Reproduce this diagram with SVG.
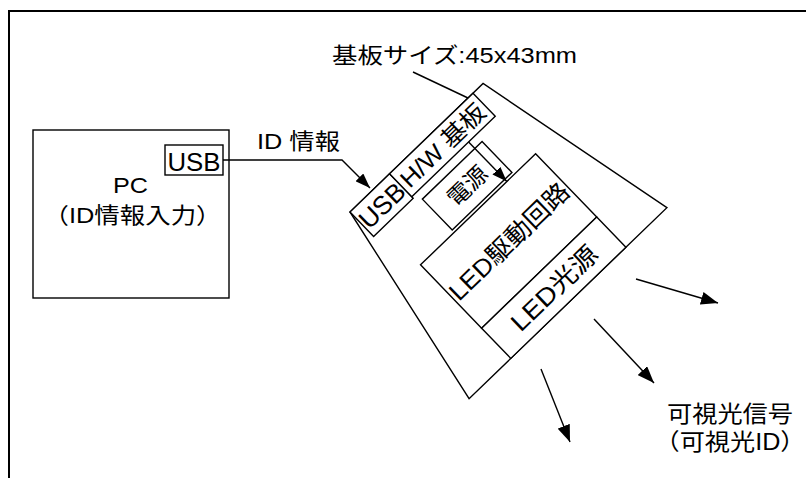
<svg xmlns="http://www.w3.org/2000/svg" width="806" height="478" viewBox="0 0 806 478">
<style>
.ln{fill:none;stroke:#000;stroke-width:1.4}
.bx{fill:#fff;stroke:#000;stroke-width:1.4}
.frame{fill:none;stroke:#000;stroke-width:2}
text{font-family:"Liberation Sans","Noto Sans CJK JP",sans-serif;fill:#000}
</style>
<defs>
<marker id="ah" viewBox="0 0 17 13" refX="17" refY="6.5" markerWidth="17" markerHeight="13" markerUnits="userSpaceOnUse" orient="auto">
<path d="M0,0 L17,6.5 L0,13 Z" fill="#000"/>
</marker>
<marker id="ahs" viewBox="0 0 15 11" refX="15" refY="5.5" markerWidth="15" markerHeight="11" markerUnits="userSpaceOnUse" orient="auto">
<path d="M0,0 L15,5.5 L0,11 Z" fill="#000"/>
</marker>
</defs>
<rect class="frame" x="9" y="11" width="900" height="600"/>

<g id="pc">
<rect class="bx" x="33" y="130" width="196" height="168"/>
<text x="130.5" y="193" font-size="22" text-anchor="middle" textLength="35" lengthAdjust="spacingAndGlyphs">PC</text>
<text x="132.5" y="223" font-size="22" text-anchor="middle" textLength="178" lengthAdjust="spacingAndGlyphs">（ID情報入力）</text>
</g>
<g id="pc-usb">
<rect class="bx" x="165" y="145" width="58" height="30"/>
<text x="194" y="171" font-size="25" text-anchor="middle" textLength="53" lengthAdjust="spacingAndGlyphs">USB</text>
</g>

<g id="board-label">
<text x="332" y="63" font-size="22" textLength="245" lengthAdjust="spacingAndGlyphs">基板サイズ:45x43mm</text>
</g>
<g id="id-label">
<text x="257" y="149" font-size="22" textLength="83" lengthAdjust="spacingAndGlyphs">ID 情報</text>
</g>
<g id="signal-label">
<text x="730" y="422" font-size="23" text-anchor="middle" textLength="126" lengthAdjust="spacingAndGlyphs">可視光信号</text>
<text x="730" y="450" font-size="23" text-anchor="middle" textLength="151" lengthAdjust="spacingAndGlyphs">（可視光ID）</text>
</g>

<g id="board" transform="translate(350,212) rotate(-44)">
<polygon class="bx" points="0,0 185,0 231,217 -44,217"/>
</g>
<g id="board-usb" transform="translate(350,212) rotate(-44)">
<rect class="bx" x="0" y="0" width="55" height="34"/>
<text x="27.5" y="26.5" font-size="26" text-anchor="middle" textLength="53" lengthAdjust="spacingAndGlyphs">USB</text>
</g>
<g id="hw-board" transform="translate(350,212) rotate(-44)">
<rect class="bx" x="55" y="0" width="116" height="32"/>
<text x="113" y="25" font-size="24" text-anchor="middle" textLength="108" lengthAdjust="spacingAndGlyphs">H/W 基板</text>
</g>
<g id="power" transform="translate(350,212) rotate(-44)">
<rect class="bx" x="61" y="41" width="83" height="43"/>
<text x="102.5" y="71" font-size="23" text-anchor="middle">電源</text>
</g>
<g id="led-driver" transform="translate(350,212) rotate(-44)">
<rect class="bx" x="14" y="87" width="160" height="88"/>
<text x="94" y="140.5" font-size="25" text-anchor="middle" textLength="156" lengthAdjust="spacingAndGlyphs">LED駆動回路</text>
</g>
<g id="led-source" transform="translate(350,212) rotate(-44)">
<rect class="bx" x="14" y="175" width="160" height="42"/>
<text x="94" y="205.5" font-size="25" text-anchor="middle" textLength="110" lengthAdjust="spacingAndGlyphs">LED光源</text>
</g>

<g id="connectors">
<polyline class="ln" points="223,160 342,160 370,188" marker-end="url(#ahs)"/>
<line class="ln" x1="413" y1="72" x2="468" y2="98"/>
<line class="ln" x1="636" y1="279" x2="718" y2="303" marker-end="url(#ah)"/>
<line class="ln" x1="594" y1="319" x2="654" y2="383" marker-end="url(#ah)"/>
<line class="ln" x1="541" y1="369" x2="570" y2="442" marker-end="url(#ah)"/>
<g transform="translate(350,212) rotate(-44)">
<line class="ln" x1="134" y1="32" x2="134" y2="87" marker-end="url(#ahs)"/>
</g>
</g>
</svg>
